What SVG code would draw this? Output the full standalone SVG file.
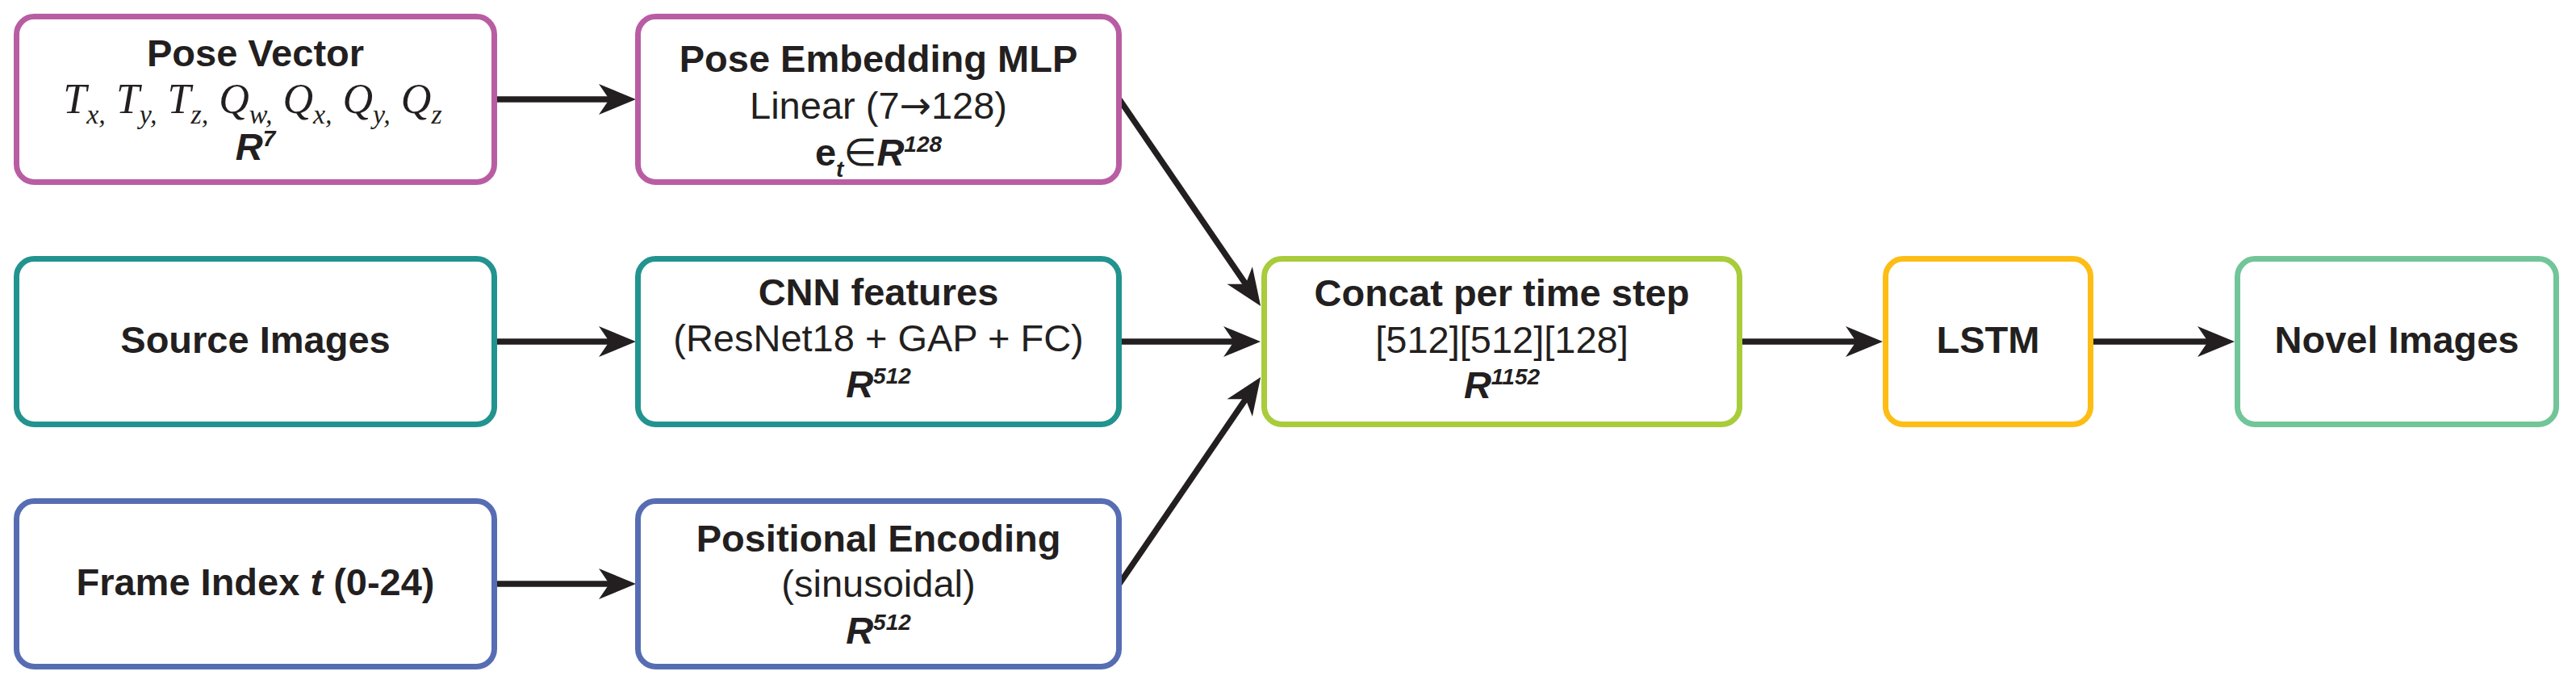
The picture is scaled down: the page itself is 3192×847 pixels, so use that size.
<svg xmlns="http://www.w3.org/2000/svg" width="3192" height="847" viewBox="0 0 3192 847">
<style>
.box{fill:#FFFFFF;stroke-width:7}
.pink{stroke:#B95DA3}
.teal{stroke:#22938F}
.blue{stroke:#576DB3}
.lime{stroke:#A8CC3A}
.gold{stroke:#FDBD14}
.mint{stroke:#72C598}
.t{font-family:"Liberation Sans",Arial,"DejaVu Sans",sans-serif;font-size:47px;fill:#231F20;text-anchor:middle}
.b{font-weight:bold}
.bi{font-weight:bold;font-style:italic}
.sup{font-size:28px}
.arr{font-family:"DejaVu Sans",sans-serif}
.math{font-family:"Liberation Serif","Times New Roman",serif;font-style:italic;font-size:52px;fill:#231F20;text-anchor:middle}
.sub{font-size:34px}
.conn{stroke:#231F20;stroke-width:7.5;fill:none;marker-end:url(#ah)}
</style>
<defs>
<marker id="ah" markerUnits="userSpaceOnUse" viewBox="-20 -22 54 44" refX="0" refY="0" markerWidth="54" markerHeight="44" orient="auto">
<path d="M30,0 L-16,-19 L-3,0 L-16,19 Z" fill="#231F20"/>
</marker>
</defs>
<rect width="3192" height="847" fill="#FFFFFF"/>

<g id="connectors">
<line class="conn" x1="613" y1="123" x2="758" y2="123"/>
<line class="conn" x1="613" y1="423" x2="758" y2="423"/>
<line class="conn" x1="613" y1="723" x2="758" y2="723"/>
<line class="conn" x1="1387" y1="123" x2="1545.2" y2="354.2"/>
<line class="conn" x1="1387" y1="423" x2="1532" y2="423"/>
<line class="conn" x1="1387" y1="723" x2="1545.2" y2="491.8"/>
<line class="conn" x1="2156" y1="423" x2="2303" y2="423"/>
<line class="conn" x1="2591" y1="423" x2="2739" y2="423"/>
</g>

<g id="pose-vector">
<rect class="box pink" x="20.5" y="20.5" width="592" height="205" rx="22"/>
<text class="t b" x="316.5" y="82">Pose Vector</text>
<text class="math" x="313" y="140">T<tspan class="sub" dy="13">x,</tspan><tspan dy="-13"> T</tspan><tspan class="sub" dy="13">y,</tspan><tspan dy="-13"> T</tspan><tspan class="sub" dy="13">z,</tspan><tspan dy="-13"> Q</tspan><tspan class="sub" dy="13">w,</tspan><tspan dy="-13"> Q</tspan><tspan class="sub" dy="13">x,</tspan><tspan dy="-13"> Q</tspan><tspan class="sub" dy="13">y,</tspan><tspan dy="-13"> Q</tspan><tspan class="sub" dy="13">z</tspan></text>
<text class="t" x="316.5" y="198"><tspan class="bi">R</tspan><tspan class="bi sup" dy="-17">7</tspan></text>
</g>

<g id="pose-embedding">
<rect class="box pink" x="790.5" y="20.5" width="596" height="205" rx="22"/>
<text class="t b" x="1088.5" y="89">Pose Embedding MLP</text>
<text class="t" x="1088.5" y="147">Linear (7<tspan class="arr">→</tspan>128)</text>
<text class="t" x="1088.5" y="205"><tspan class="b">e</tspan><tspan class="bi sup" dy="14">t</tspan><tspan dy="-14">∈</tspan><tspan class="bi">R</tspan><tspan class="bi sup" dy="-17">128</tspan></text>
</g>

<g id="source-images">
<rect class="box teal" x="20.5" y="320.5" width="592" height="205" rx="22"/>
<text class="t b" x="316.5" y="437">Source Images</text>
</g>

<g id="cnn-features">
<rect class="box teal" x="790.5" y="320.5" width="596" height="205" rx="22"/>
<text class="t b" x="1088.5" y="378">CNN features</text>
<text class="t" x="1088.5" y="435">(ResNet18 + GAP + FC)</text>
<text class="t" x="1088.5" y="492"><tspan class="bi">R</tspan><tspan class="bi sup" dy="-17">512</tspan></text>
</g>

<g id="frame-index">
<rect class="box blue" x="20.5" y="620.5" width="592" height="205" rx="22"/>
<text class="t b" x="316.5" y="737">Frame Index <tspan class="bi">t</tspan> (0-24)</text>
</g>

<g id="positional-encoding">
<rect class="box blue" x="790.5" y="620.5" width="596" height="205" rx="22"/>
<text class="t b" x="1088.5" y="683">Positional Encoding</text>
<text class="t" x="1088.5" y="739">(sinusoidal)</text>
<text class="t" x="1088.5" y="797"><tspan class="bi">R</tspan><tspan class="bi sup" dy="-17">512</tspan></text>
</g>

<g id="concat">
<rect class="box lime" x="1566.5" y="320.5" width="589" height="205" rx="22"/>
<text class="t b" x="1861" y="379">Concat per time step</text>
<text class="t" x="1861" y="437">[512][512][128]</text>
<text class="t" x="1861" y="493"><tspan class="bi">R</tspan><tspan class="bi sup" dy="-17">1152</tspan></text>
</g>

<g id="lstm">
<rect class="box gold" x="2336.5" y="320.5" width="254" height="205" rx="22"/>
<text class="t b" x="2463.5" y="437">LSTM</text>
</g>

<g id="novel-images">
<rect class="box mint" x="2772.5" y="320.5" width="395" height="205" rx="22"/>
<text class="t b" x="2970" y="437">Novel Images</text>
</g>
</svg>
